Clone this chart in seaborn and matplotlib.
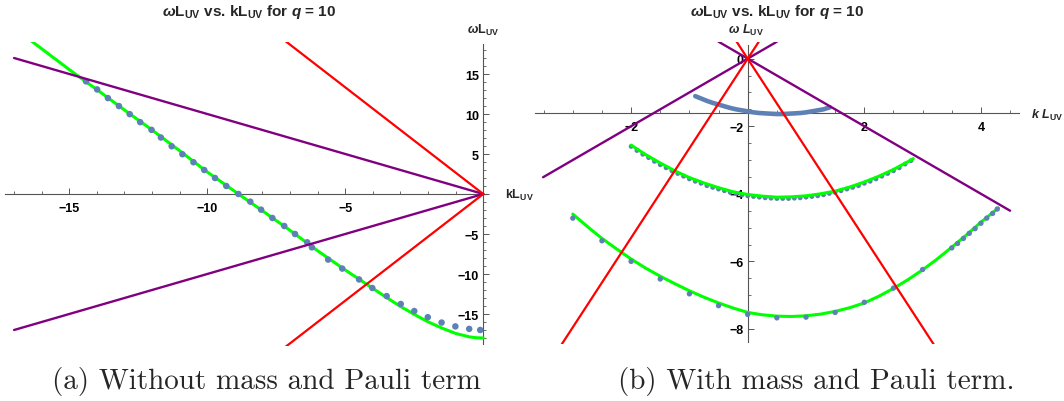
import numpy as np
import matplotlib
matplotlib.use("Agg")
import matplotlib.pyplot as plt
from matplotlib.ticker import FixedLocator, FuncFormatter
import seaborn as sns

# ---------------- data: panel (a) without mass and Pauli term ----------------
a_dots_k = [-14.39, -13.99, -13.6, -13.2, -12.81, -12.43, -12.02, -11.68, -11.29, -10.9,
            -10.5, -10.11, -9.72, -9.31, -8.87, -8.44, -8.05, -7.64, -7.21, -6.82,
            -6.38, -6.21, -5.62, -5.11, -4.5, -4.02, -3.5, -2.99, -2.5, -2.01,
            -1.51, -1.01, -0.51, -0.11]
a_dots_w = [14.08, 13.07, 11.99, 10.99, 9.98, 8.98, 8.02, 7.06, 5.97, 4.97,
            3.97, 3.0, 2.0, 1.0, 0.0, -0.96, -1.96, -3.0, -4.0, -5.0,
            -6.04, -6.67, -8.2, -9.32, -10.68, -11.75, -12.76, -13.75, -14.63, -15.4,
            -16.07, -16.55, -16.86, -17.0]
a_green_k = [-16.4, -15.0, -14.0, -13.0, -12.0, -11.0, -10.0, -8.87, -8.0, -7.0, -6.0,
             -5.0, -4.5, -4.0, -3.5, -3.0, -2.5, -2.0, -1.5, -1.0, -0.5, -0.25, 0.0]
a_green_w = [19.2, 15.55, 13.05, 10.5, 8.0, 5.4, 2.75, 0.0, -2.1, -4.55, -7.1,
             -9.5, -10.65, -11.8, -12.95, -14.05, -15.05, -15.98, -16.76, -17.43, -17.86, -17.97, -18.0]
a_purple_k = [-17.0, 0.0]
a_purple_up_w = [17.0, 0.0]
a_purple_dn_w = [-17.0, 0.0]
a_red_k = [-7.2, 0.0]
a_red_up_w = [19.2, 0.0]
a_red_dn_w = [-19.2, 0.0]

# ---------------- data: panel (b) with mass and Pauli term ----------------
b_band_k = [-0.9, -0.8, -0.7, -0.6, -0.5, -0.4, -0.3, -0.2, -0.1, 0.0, 0.1, 0.2,
            0.3, 0.4, 0.5, 0.6, 0.7, 0.8, 0.9, 1.0, 1.1, 1.2, 1.3, 1.41]
b_band_w = [-1.11, -1.18, -1.25, -1.31, -1.36, -1.41, -1.46, -1.5, -1.53, -1.56, -1.59, -1.61,
            -1.62, -1.63, -1.64, -1.64, -1.63, -1.62, -1.61, -1.59, -1.56, -1.53, -1.5, -1.44]

b_mid_dots_k = [-2.0, -1.9, -1.8, -1.7, -1.6, -1.5, -1.4, -1.3, -1.2, -1.1, -1.0, -0.9,
                -0.8, -0.7, -0.6, -0.5, -0.4, -0.3, -0.2, -0.1, 0.0, 0.1, 0.2, 0.3,
                0.4, 0.5, 0.6, 0.7, 0.8, 0.9, 1.0, 1.1, 1.2, 1.3, 1.4, 1.5,
                1.6, 1.7, 1.8, 1.9, 2.0, 2.1, 2.2, 2.3, 2.4, 2.5, 2.6, 2.7, 2.8]
b_mid_dots_w = [-2.6, -2.72, -2.83, -2.93, -3.04, -3.14, -3.23, -3.32, -3.4, -3.48, -3.56, -3.63,
                -3.69, -3.76, -3.81, -3.86, -3.91, -3.96, -3.99, -4.03, -4.06, -4.08, -4.1, -4.12,
                -4.13, -4.14, -4.14, -4.14, -4.13, -4.12, -4.1, -4.08, -4.06, -4.03, -3.99, -3.96,
                -3.91, -3.86, -3.81, -3.76, -3.69, -3.63, -3.56, -3.48, -3.4, -3.32, -3.23, -3.12, -3.02]
b_mid_green_k = [-2.0, -1.75, -1.5, -1.25, -1.0, -0.75, -0.5, -0.25, 0.0, 0.25, 0.5, 0.75,
                 1.0, 1.25, 1.5, 1.75, 2.0, 2.25, 2.5, 2.75, 2.84]
b_mid_green_w = [-2.56, -2.84, -3.09, -3.32, -3.52, -3.68, -3.82, -3.94, -4.02, -4.07, -4.1, -4.09,
                 -4.06, -4.0, -3.92, -3.8, -3.65, -3.48, -3.28, -3.05, -2.96]

b_low_dots_k = [-3.0, -2.5, -2.0, -1.5, -1.0, -0.5, 0.0, 0.5, 1.0, 1.5, 2.0, 2.5, 3.0,
                3.5, 3.6, 3.7, 3.8, 3.9, 4.0, 4.1, 4.2, 4.28]
b_low_dots_w = [-4.72, -5.39, -6.0, -6.52, -6.96, -7.31, -7.57, -7.67, -7.65, -7.51, -7.21, -6.79, -6.24,
                -5.6, -5.47, -5.32, -5.17, -5.03, -4.87, -4.72, -4.58, -4.45]
b_low_green_k = [-3.0, -2.75, -2.5, -2.25, -2.0, -1.75, -1.5, -1.25, -1.0, -0.75, -0.5, -0.25,
                 0.0, 0.25, 0.5, 0.75, 1.0, 1.25, 1.5, 1.75, 2.0, 2.25, 2.5, 2.75,
                 3.0, 3.25, 3.5, 3.75, 4.0, 4.15, 4.3]
b_low_green_w = [-4.6, -4.97, -5.32, -5.63, -5.93, -6.2, -6.44, -6.66, -6.87, -7.06, -7.23, -7.38,
                 -7.51, -7.58, -7.62, -7.63, -7.61, -7.56, -7.48, -7.37, -7.23, -7.03, -6.8, -6.54,
                 -6.25, -5.93, -5.58, -5.22, -4.84, -4.63, -4.42]
b_purple1_k = [-3.51, 0.5]
b_purple1_w = [-3.51, 0.5]
b_purple2_k = [-0.5, 4.5]
b_purple2_w = [0.5, -4.5]
b_red1_k = [-3.2, 0.19]
b_red1_w = [-8.48, 0.5]
b_red2_k = [-0.19, 3.2]
b_red2_w = [0.5, -8.48]

title_text = r"$\omega$L$_{\mathrm{UV}}$ vs. kL$_{\mathrm{UV}}$ for $q$ = 10"
caption_a = "(a) Without mass and Pauli term"
caption_b = "(b) With mass and Pauli term."

# ---------------- style ----------------
sns.set_theme(style="white")
plt.rcParams["font.family"] = ["Liberation Sans", "DejaVu Sans"]
plt.rcParams["mathtext.fontset"] = "custom"
plt.rcParams["mathtext.rm"] = "Liberation Sans:bold"
plt.rcParams["mathtext.it"] = "Liberation Sans:italic:bold"
plt.rcParams["mathtext.bf"] = "Liberation Sans:bold"
plt.rcParams["axes.unicode_minus"] = True

PURPLE = "#800080"
RED = "#ff0000"
GREEN = "#00ff00"
BLUE = "#5e81b5"
AXC = "#555555"

W, H = 1064, 402
fig = plt.figure(figsize=(W / 100, H / 100), dpi=100)
fig.patch.set_facecolor("white")


def px_axes(x0, y0, x1, y1):
    return fig.add_axes([x0 / W, 1 - y1 / H, (x1 - x0) / W, (y1 - y0) / H])


def line(ax, k, w, color, lw, z, **kw):
    sns.lineplot(x=k, y=w, ax=ax, color=color, linewidth=lw, sort=False,
                 estimator=None, zorder=z, legend=False, **kw)


def dots(ax, k, w, s, z):
    sns.scatterplot(x=k, y=w, ax=ax, color=BLUE, s=s, edgecolor="none",
                    linewidth=0, zorder=z, legend=False)


def fmt_factory(hide_zero):
    def f(v, pos):
        if abs(v) < 1e-9:
            return "" if hide_zero else "0"
        s = f"{v:g}"
        return s.replace("-", "\u2212")
    return FuncFormatter(f)


def style_axes(ax, xlim, ylim, xorigin_y, xbounds, ybounds,
               xmaj, xmin_, ymaj, ymin_, hide_y0):
    ax.set_xlim(*xlim)
    ax.set_ylim(*ylim)
    ax.set_facecolor("none")
    for s in ("top", "right"):
        ax.spines[s].set_visible(False)
    ax.spines["left"].set_position(("data", 0))
    ax.spines["bottom"].set_position(("data", xorigin_y))
    ax.spines["left"].set_bounds(*ybounds)
    ax.spines["bottom"].set_bounds(*xbounds)
    for s in ("left", "bottom"):
        ax.spines[s].set_color(AXC)
        ax.spines[s].set_linewidth(0.8)
        ax.spines[s].set_zorder(1)
    ax.xaxis.set_major_locator(FixedLocator(xmaj))
    ax.xaxis.set_minor_locator(FixedLocator(xmin_))
    ax.yaxis.set_major_locator(FixedLocator(ymaj))
    ax.yaxis.set_minor_locator(FixedLocator(ymin_))
    ax.xaxis.set_major_formatter(fmt_factory(True))
    ax.yaxis.set_major_formatter(fmt_factory(hide_y0))
    ax.tick_params(axis="both", which="both", bottom=True, left=True,
                   top=False, right=False)
    ax.tick_params(axis="both", which="major", direction="in", length=4.0,
                   width=0.7, color=AXC, labelsize=9, labelcolor="black")
    ax.tick_params(axis="both", which="minor", direction="in", length=2.1,
                   width=0.6, color=AXC)
    ax.tick_params(axis="x", which="major", pad=5.5)
    ax.tick_params(axis="y", which="major", pad=3)
    for lab in ax.get_xticklabels() + ax.get_yticklabels():
        lab.set_fontweight("bold")
    ax.set_xlabel("")
    ax.set_ylabel("")
    ax.grid(False)


# ---------------- panel (a) ----------------
axa = px_axes(4.4, 43, 487.4, 347)
line(axa, a_green_k, a_green_w, GREEN, 2.2, 2)
dots(axa, a_dots_k, a_dots_w, s=22, z=3)
line(axa, a_purple_k, a_purple_up_w, PURPLE, 1.7, 4)
line(axa, a_purple_k, a_purple_dn_w, PURPLE, 1.7, 4)
line(axa, a_red_k, a_red_up_w, RED, 1.6, 5)
line(axa, a_red_k, a_red_dn_w, RED, 1.6, 5)
style_axes(axa, (-17.35, 0.15), (-19, 19), 0, (-17.33, 0.15), (-18.75, 18.75),
           [-15, -10, -5, 0], list(np.arange(-17, 1, 1.0)),
           [-15, -10, -5, 0, 5, 10, 15], list(np.arange(-18, 19, 1.0)), True)

# ---------------- panel (b) ----------------
axb = px_axes(534.9, 43.4, 1019.4, 345.2)
line(axb, b_band_k, b_band_w, BLUE, 3.3, 2, solid_capstyle="round")
dots(axb, b_mid_dots_k, b_mid_dots_w, s=12, z=2)
line(axb, b_mid_green_k, b_mid_green_w, GREEN, 2.2, 3)
line(axb, b_low_green_k, b_low_green_w, GREEN, 2.2, 3)
dots(axb, b_low_dots_k, b_low_dots_w, s=15, z=3.5)
line(axb, b_purple1_k, b_purple1_w, PURPLE, 1.7, 4)
line(axb, b_purple2_k, b_purple2_w, PURPLE, 1.7, 4)
line(axb, b_red1_k, b_red1_w, RED, 1.6, 5)
line(axb, b_red2_k, b_red2_w, RED, 1.6, 5)
style_axes(axb, (-3.65, 4.66), (-8.45, 0.48), -1.61, (-3.65, 4.66), (-8.39, 0.41),
           [-2, 0, 2, 4], list(np.arange(-3.5, 4.6, 0.5)),
           [-8, -6, -4, -2, 0], list(np.arange(-8.0, 0.1, 0.5)), False)

# ---------------- texts ----------------
def ftext(x, y, s, **kw):
    fig.text(x / W, 1 - y / H, s, **kw)

ftext(249, 12, title_text, ha="center", va="center", fontsize=11, fontweight="bold")
ftext(777, 12, title_text, ha="center", va="center", fontsize=11, fontweight="bold")
ftext(483, 30, r"$\omega$L$_{\mathrm{UV}}$", ha="center", va="center", fontsize=9, fontweight="bold")
ftext(505, 195, r"kL$_{\mathrm{UV}}$", ha="left", va="center", fontsize=9, fontweight="bold")
ftext(746, 30, r"$\omega\ L_{\mathrm{UV}}$", ha="center", va="center", fontsize=9, fontweight="bold")
ftext(1031, 115, r"$k\ L_{\mathrm{UV}}$", ha="left", va="center", fontsize=9, fontweight="bold")

ftext(266, 382, caption_a, ha="center", va="center", fontsize=21, family="cmr10")
ftext(816, 382, caption_b, ha="center", va="center", fontsize=21, family="cmr10")

fig.savefig("out.png", dpi=100, facecolor="white")
